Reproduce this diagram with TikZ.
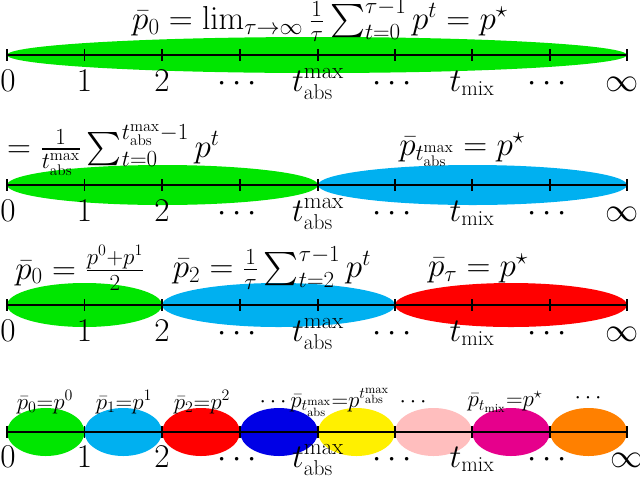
\documentclass[tikz,border=0pt]{standalone}
\usepackage{amsmath}
\definecolor{colg}{RGB}{0,230,0}
\definecolor{colc}{RGB}{0,176,240}
\definecolor{colr}{RGB}{255,0,0}
\definecolor{colb}{RGB}{0,0,230}
\definecolor{coly}{RGB}{255,240,0}
\definecolor{colp}{RGB}{255,190,190}
\definecolor{colm}{RGB}{230,0,140}
\definecolor{colo}{RGB}{255,128,0}
\begin{document}
\begin{tikzpicture}[x=0.75pt,y=-0.75pt,
  lab/.style={font=\fontsize{23}{26}\selectfont,inner sep=0pt},
  slab/.style={font=\fontsize{18}{20}\selectfont,inner sep=0pt},
  axisline/.style={line width=0.9pt}]
\useasboundingbox (0,0) rectangle (640,476);
\def\X{{7,84.5,162,240,318,395,472,550,627}}
\newcommand{\axrow}[1]{%
  \draw[axisline] (7,#1) -- (627,#1);
  \foreach \i in {0,...,8}{\pgfmathsetmacro\xx{\X[\i]}\draw[axisline] (\xx,#1-6) -- (\xx,#1+6);}}
\newcommand{\nums}[2]{%
  \node[lab,anchor=base] at (8,#1) {$0$};
  \node[lab,anchor=base] at (84.5,#1) {$1$};
  \node[lab,anchor=base] at (162,#1) {$2$};
  \node[lab,anchor=base] at (240,#1) {$\cdots$};
  \node[lab,anchor=base] at (318,#1) {$t_{\text{abs}}^{\max}$};
  \node[lab,anchor=base] at (395,#1) {$\cdots$};
  \node[lab,anchor=base] at (472,#1) {$t_{\text{mix}}$};
  \node[lab,anchor=base] at (550,#1) {$\cdots$};
  \node[lab,anchor=base] at (#2,#1) {$\infty$};}
% row 1
\fill[colg] (317,55) ellipse (310 and 18);
\axrow{55}
\nums{91}{622}
\node[lab] (l1) at (320,20) {$\bar p_0=\lim_{\tau\to\infty}\frac{1}{\tau}\sum_{t=0}^{\tau-1}p^t=p^\star$};
% row 2
\fill[colg] (162.5,185) ellipse (155.5 and 20);
\fill[colc] (472.5,185) ellipse (154.5 and 20);
\axrow{185}
\nums{221}{622}
\node[lab] (l2a) at (95,150) {$\bar p_0=\frac{1}{t_{\text{abs}}^{\max}}\sum_{t=0}^{t_{\text{abs}}^{\max}-1}p^t$};
\node[lab] (l2b) at (462,150) {$\bar p_{t_{\text{abs}}^{\max}}=p^\star$};
% row 3
\fill[colg] (84.5,305) ellipse (77.5 and 22);
\fill[colc] (278.5,305) ellipse (116.5 and 22);
\fill[colr] (511,305) ellipse (116 and 22);
\axrow{305}
\nums{341}{622}
\node[lab] (l3a) at (80,268) {$\bar p_0=\frac{p^0+p^1}{2}$};
\node[lab] (l3b) at (272,268) {$\bar p_2=\frac{1}{\tau}\sum_{t=2}^{\tau-1}p^t$};
\node[lab] (l3c) at (478,268) {$\bar p_\tau=p^\star$};
% row 4
\foreach \c [count=\i from 0] in {colg,colc,colr,colb,coly,colp,colm,colo}{
  \pgfmathsetmacro\xa{\X[\i]}\pgfmathsetmacro\xb{\X[\i+1]}
  \fill[\c] ({(\xa+\xb)/2},432) ellipse ({(\xb-\xa)/2} and 24);}
\axrow{432}
\nums{467}{627}
\node[slab] (m0) at (45,402) {$\bar p_0{=}p^0$};
\node[slab] (m1) at (124,402) {$\bar p_1{=}p^1$};
\node[slab] (m2) at (202,402) {$\bar p_2{=}p^2$};
\node[slab] (m3) at (345,402) {$\cdots\bar p_{t_{\text{abs}}^{\max}}{=}p^{t_{\text{abs}}^{\max}}\;\cdots$};
\node[slab] (m4) at (505,402) {$\bar p_{t_{\text{mix}}}{=}p^\star$};
\node[slab] (m5) at (590,398) {$\cdots$};
\end{tikzpicture}
\end{document}
